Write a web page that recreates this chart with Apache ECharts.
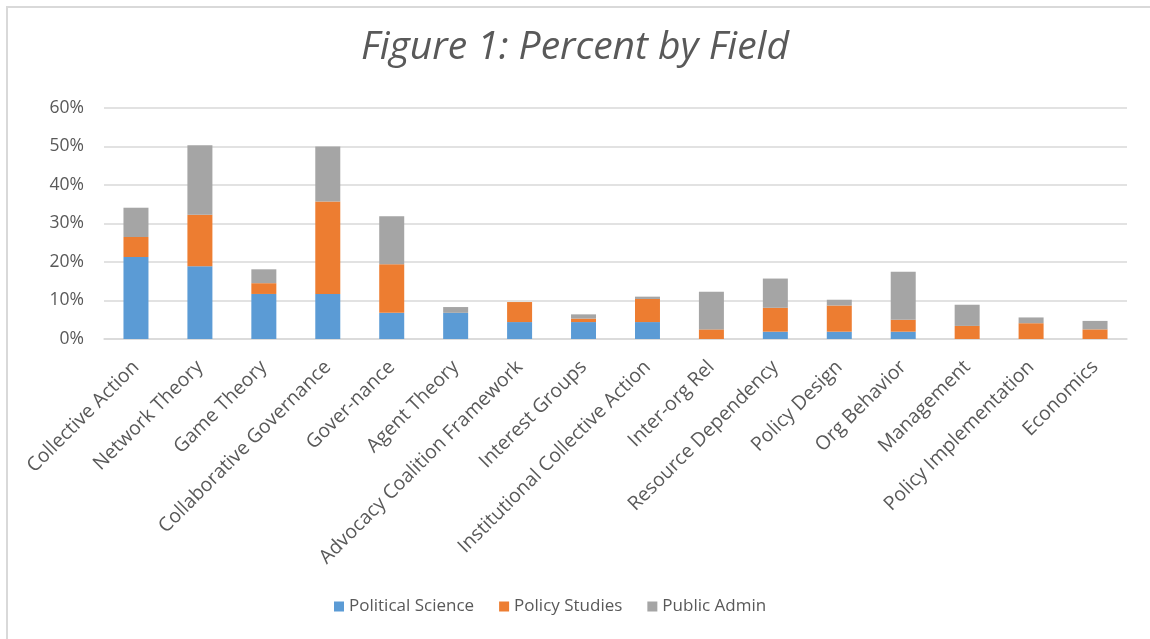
<!DOCTYPE html>
<html>
<head>
<meta charset="utf-8">
<script src="https://cdn.jsdelivr.net/npm/echarts@6/dist/echarts.min.js"></script>
<style>
html,body{margin:0;padding:0;background:#fff;}
#frame{position:absolute;left:6px;top:6px;width:1150px;height:640px;border-left:2px solid #d9d9d9;border-top:2px solid #d9d9d9;}
#chart{position:absolute;left:0;top:0;width:1150px;height:639px;}
</style>
</head>
<body>
<div id="frame"></div>
<div id="chart"></div>
<script>
var fields=["Collective Action","Network Theory","Game Theory","Collaborative Governance","Gover-nance","Agent Theory","Advocacy Coalition Framework","Interest Groups","Institutional Collective Action","Inter-org Rel","Resource Dependency","Policy Design","Org Behavior","Management","Policy Implementation","Economics"];
var politicalScience=[21.3,18.9,11.7,11.7,6.8,6.8,4.4,4.4,4.4,0,1.9,1.9,1.9,0,0,0];
var policyStudies=[5.2,13.4,2.8,24.0,12.6,0,5.2,0.9,6.0,2.5,6.2,6.8,3.1,3.4,4.1,2.5];
var publicAdmin=[7.6,18.0,3.6,14.3,12.5,1.5,0,1.1,0.6,9.8,7.6,1.5,12.5,5.5,1.5,2.2];

var font='"Open Sans", sans-serif';
var chart=echarts.init(document.getElementById('chart'));

function bar(name,data,color){
	return {
		name:name,
		type:'bar',
		stack:'total',
		barWidth:25,
		data:data,
		itemStyle:{color:color},
		emphasis:{disabled:true}
	};
}

chart.setOption({
	animation:false,
	title:{
		text:'Figure 1: Percent by Field',
		left:'center',
		top:23,
		textStyle:{fontFamily:font,fontStyle:'italic',fontWeight:'normal',fontSize:39,color:'#595959'}
	},
	legend:{
		bottom:19,
		left:329,
		itemWidth:10,
		itemHeight:10,
		itemGap:25,
		icon:'rect',
		textStyle:{fontFamily:font,fontSize:17,color:'#595959'},
		data:['Political Science','Policy Studies','Public Admin']
	},
	grid:{left:104,right:23,top:108,bottom:300,containLabel:false},
	xAxis:{
		type:'category',
		data:fields,
		axisLine:{lineStyle:{color:'#d9d9d9',width:1.5}},
		axisTick:{show:false},
		axisLabel:{rotate:45,interval:0,margin:25,fontFamily:font,fontSize:19.5,color:'#595959'}
	},
	yAxis:{
		type:'value',
		min:0,
		max:60,
		interval:10,
		axisLine:{show:false},
		axisTick:{show:false},
		splitLine:{lineStyle:{color:'#d9d9d9',width:1.5}},
		axisLabel:{margin:20,fontFamily:font,fontSize:17.5,color:'#595959',formatter:'{value}%'}
	},
	series:[
		bar('Political Science',politicalScience,'#5B9BD5'),
		bar('Policy Studies',policyStudies,'#ED7D31'),
		bar('Public Admin',publicAdmin,'#A5A5A5')
	]
});
</script>
</body>
</html>
